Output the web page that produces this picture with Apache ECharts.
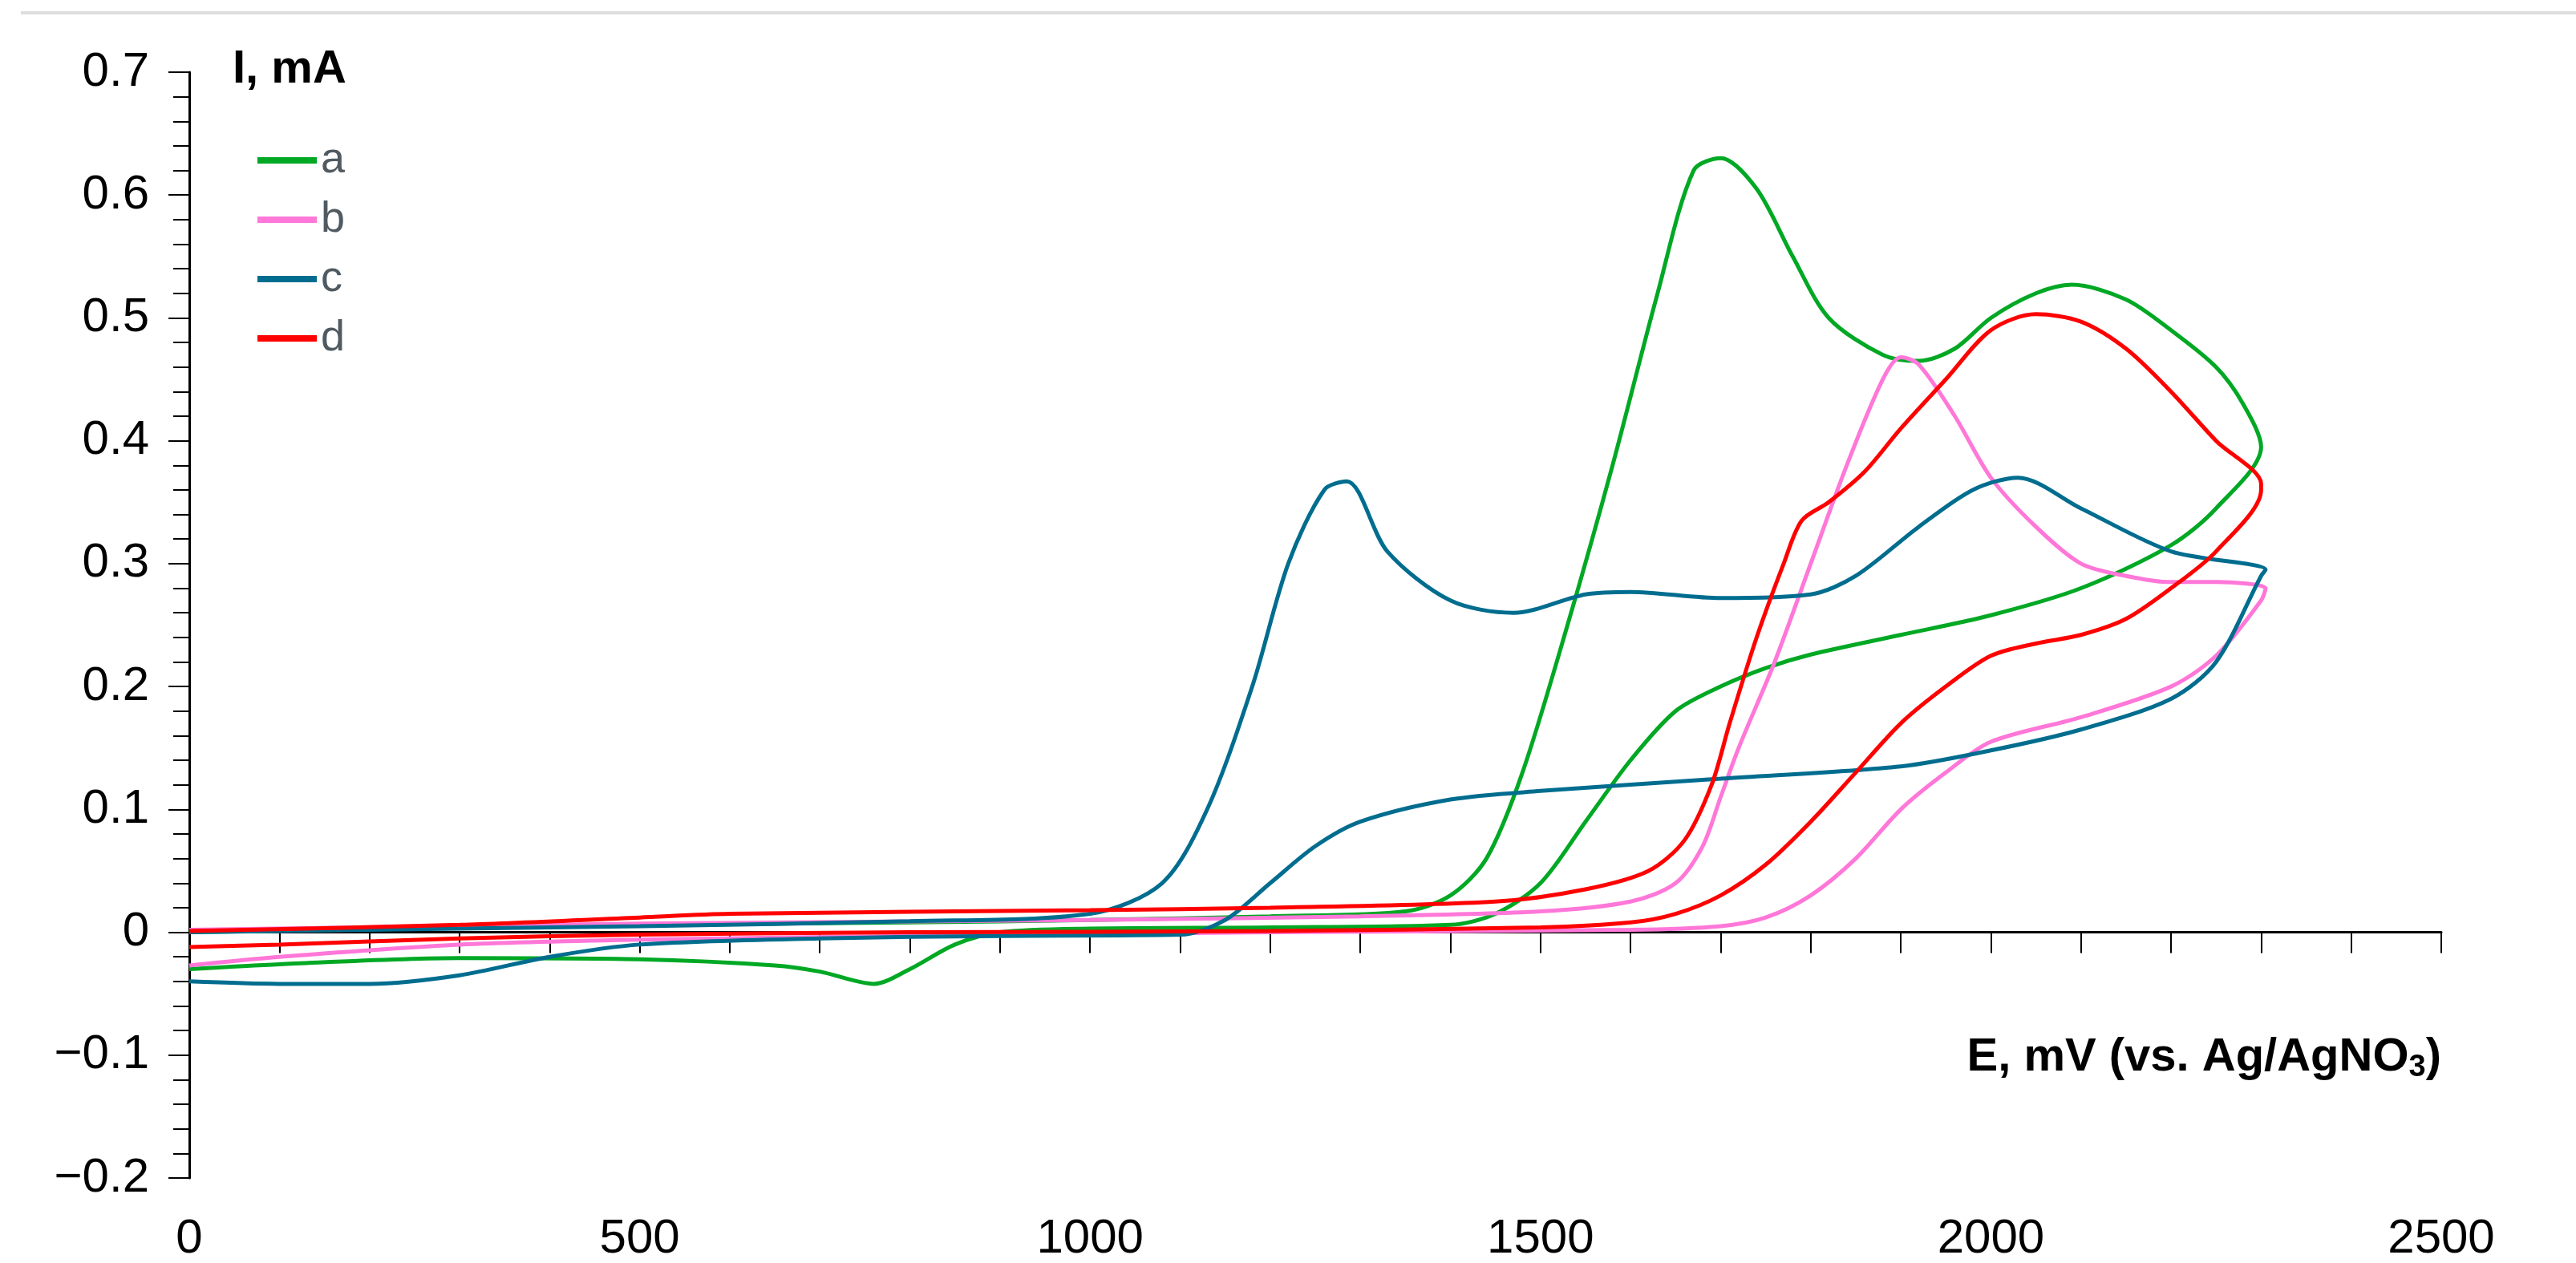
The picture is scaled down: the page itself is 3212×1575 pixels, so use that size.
<!DOCTYPE html>
<html>
<head>
<meta charset="utf-8">
<script src="https://cdn.jsdelivr.net/npm/echarts@6/dist/echarts.min.js"></script>
<style>html,body{margin:0;padding:0;background:#fff}#main{width:3212px;height:1575px}</style>
</head>
<body>
<div id="main"></div>
<script>
// CV curves, E (mV) vs I (mA), each a closed loop
var seriesNames = ["a", "b", "c", "d"];
var colors = ["#00a824", "#ff77d8", "#006d8f", "#ff0000"];
var curveA = [[0,-0.03],[100,-0.026],[300,-0.021],[500,-0.022],[650,-0.027],[700,-0.032],[760,-0.042],[800,-0.03],[850,-0.01],[900,0],[1000,0.003],[1200,0.004],[1400,0.006],[1450,0.015],[1500,0.04],[1550,0.09],[1600,0.14],[1650,0.18],[1700,0.2],[1750,0.215],[1800,0.226],[1900,0.242],[2000,0.258],[2100,0.28],[2200,0.315],[2250,0.345],[2300,0.395],
  [2280,0.43],[2250,0.46],[2200,0.49],[2150,0.515],[2090,0.527],[2050,0.52],[2000,0.5],[1960,0.475],[1920,0.465],[1880,0.47],[1820,0.5],[1780,0.55],[1740,0.605],[1700,0.63],[1670,0.62],[1630,0.52],[1580,0.38],[1530,0.25],[1480,0.13],[1440,0.06],[1400,0.03],[1350,0.017],[1200,0.013],[1000,0.01],[800,0.008],[500,0.006],[0,0]];
var curveB = [[0,-0.027],[100,-0.02],[300,-0.01],[500,-0.006],[800,-0.003],[1200,0],[1600,0.002],[1700,0.005],[1750,0.012],[1800,0.03],[1850,0.06],[1900,0.1],[1950,0.13],[2000,0.155],[2100,0.175],[2200,0.2],[2250,0.225],[2300,0.27],
  [2305,0.28],[2250,0.285],[2200,0.285],[2150,0.29],[2100,0.3],[2050,0.33],[2000,0.37],[1960,0.42],[1920,0.462],[1900,0.468],[1880,0.45],[1840,0.38],[1800,0.3],[1760,0.22],[1720,0.15],[1700,0.11],[1680,0.07],[1650,0.04],[1600,0.025],[1500,0.017],[1300,0.013],[1000,0.01],[500,0.007],[0,0.002]];
var curveC = [[0,-0.04],[100,-0.042],[200,-0.042],[300,-0.035],[400,-0.02],[500,-0.01],[700,-0.005],[900,-0.003],[1100,-0.002],[1150,0.01],[1200,0.04],[1250,0.07],[1300,0.09],[1400,0.108],[1500,0.115],[1700,0.125],[1900,0.135],[2000,0.148],[2100,0.165],[2200,0.19],[2250,0.22],[2300,0.29],
  [2305,0.295],[2200,0.31],[2100,0.345],[2030,0.37],[1980,0.36],[1920,0.33],[1850,0.29],[1800,0.275],[1700,0.272],[1600,0.277],[1550,0.275],[1470,0.26],[1400,0.27],[1330,0.31],[1285,0.367],[1260,0.36],[1220,0.3],[1180,0.2],[1130,0.1],[1080,0.04],[1000,0.015],[800,0.009],[500,0.005],[0,0]];
var curveD = [[0,-0.012],[100,-0.01],[300,-0.005],[500,-0.002],[800,0],[1200,0.001],[1500,0.004],[1600,0.008],[1650,0.015],[1700,0.03],[1750,0.055],[1800,0.09],[1850,0.13],[1900,0.17],[1950,0.2],[2000,0.225],[2050,0.235],[2100,0.242],[2150,0.255],[2200,0.28],[2250,0.31],[2300,0.36],
  [2300,0.365],[2250,0.4],[2200,0.44],[2150,0.475],[2100,0.497],[2050,0.503],[2000,0.49],[1950,0.45],[1900,0.41],[1860,0.375],[1820,0.35],[1790,0.335],[1770,0.3],[1740,0.24],[1710,0.17],[1690,0.12],[1660,0.075],[1620,0.05],[1550,0.035],[1450,0.025],[1200,0.02],[1000,0.018],[600,0.015],[500,0.012],[300,0.006],[0,0.001]];
var curves = [curveA, curveB, curveC, curveD];

var myChart = echarts.init(document.getElementById("main"));
var font = "Liberation Sans, Arial, sans-serif";

var option = {
  animation: false,
  color: colors,
  grid: { left: 236, right: 168, top: 90, bottom: 91 },
  legend: {
    orient: "vertical",
    left: 316, top: 168,
    itemWidth: 74, itemHeight: 8, itemGap: 20,
    icon: "rect",
    textStyle: { color: "#505a60", fontSize: 54, fontFamily: font },
    data: seriesNames
  },
  xAxis: {
    type: "value", min: 0, max: 2500, interval: 500,
    axisLine: { onZero: true, lineStyle: { color: "#000", width: 3 } },
    axisTick: { length: 26, lineStyle: { color: "#000", width: 2 } },
    minorTick: { show: true, splitNumber: 5, length: 26, lineStyle: { color: "#000", width: 2 } },
    axisLabel: { color: "#000", fontSize: 60, fontFamily: font, margin: 46, formatter: function (v) { return String(v); } },
    splitLine: { show: false }
  },
  yAxis: {
    type: "value", min: -0.2, max: 0.7, interval: 0.1,
    axisLine: { show: true, onZero: true, lineStyle: { color: "#000", width: 3 } },
    axisTick: { length: 26, lineStyle: { color: "#000", width: 2 } },
    minorTick: { show: true, splitNumber: 5, length: 20, lineStyle: { color: "#000", width: 2 } },
    axisLabel: {
      color: "#000", fontSize: 60, fontFamily: font, margin: 50,
      formatter: function (v) { return (Math.round(v * 10) / 10).toString().replace("-", "\u2212"); }
    },
    splitLine: { show: false }
  },
  graphic: [
    { type: "rect", left: 26, top: 14, shape: { width: 3186, height: 4 }, style: { fill: "#dddddd" } },
    { type: "text", left: 290, top: 58, style: { text: "I, mA", font: "bold 58px " + font, fill: "#000" } },
    { type: "text", right: 168, top: 1290, style: {
        text: "{b|E, mV (vs. Ag/AgNO}{s|3}{b|)}",
        rich: {
          b: { font: "bold 58px " + font, fill: "#000" },
          s: { font: "bold 38px " + font, fill: "#000", verticalAlign: "bottom", padding: [26, 0, 0, 0] }
        }
      } }
  ],
  series: seriesNames.map(function (n, i) {
    return {
      name: n, type: "line", data: curves[i],
      smooth: 0.3, symbol: "none",
      lineStyle: { width: 5, color: colors[i] }
    };
  })
};

myChart.setOption(option);
window.addEventListener("resize", function () { myChart.resize(); });
</script>
</body>
</html>
